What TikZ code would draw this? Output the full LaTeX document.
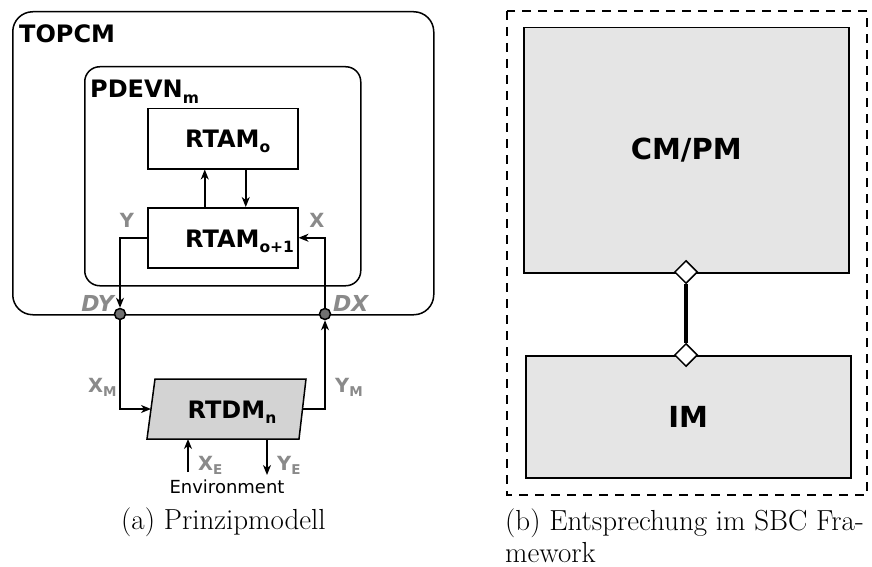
\documentclass[tikz,border=0pt]{standalone}
\usepackage{fontspec}
\newfontfamily\dv{DejaVu Sans}
\usetikzlibrary{arrows.meta,shapes.geometric}
\definecolor{lbl}{HTML}{8A8A8A}
\definecolor{dotc}{HTML}{707070}
\definecolor{rtfill}{HTML}{D3D3D3}
\definecolor{sbcfill}{HTML}{E5E5E5}
\newcommand{\sbx}[1]{\raisebox{-0.22em}{\fontsize{15.5}{15.5}\selectfont #1}}
\newcommand{\sbl}[1]{\raisebox{-0.22em}{\fontsize{13.5}{13.5}\selectfont #1}}
\tikzset{
  lw/.style={line width=1.5pt},
  boxn/.style={draw, lw, inner sep=0pt, anchor=north west},
  bt/.style={font=\dv\bfseries\fontsize{24}{27}\selectfont, inner sep=0pt},
  bigt/.style={font=\dv\bfseries\fontsize{29}{32}\selectfont, inner sep=0pt},
  gl/.style={text=lbl, font=\dv\bfseries\fontsize{19.5}{22}\selectfont, inner sep=0pt},
  gli/.style={text=lbl, font=\dv\bfseries\itshape\fontsize{22}{24}\selectfont, inner sep=0pt},
  arr/.style={lw, -{Stealth[length=10pt,width=8pt,inset=3pt]}},
  port/.style={circle, draw, lw, fill=dotc, minimum size=11pt, inner sep=0pt},
  captext/.style={font=\fontsize{29}{32}\selectfont, inner sep=0pt, anchor=base west, align=left},
  dia/.style={draw, lw, fill=white, minimum size=23pt, inner sep=0pt, shape=diamond},
}
\begin{document}
\begin{tikzpicture}[x=1pt,y=-1pt]
\useasboundingbox (0,0) rectangle (872,567);

% containers
\node[boxn, rounded corners=20pt, minimum width=421pt, minimum height=303pt] (top) at (12,11) {};
\node[bt, anchor=base west] (ttop) at (19,43) {TOPCM};
\node[boxn, rounded corners=15pt, minimum width=276pt, minimum height=219pt] (pdevn) at (84,66) {};
\node[bt, anchor=base west] (tpdevn) at (90,98) {PDEVN\sbx{m}};

% RTAM boxes
\node[boxn, minimum width=150pt, minimum height=60pt] (ro) at (147,108) {};
\node[bt, anchor=base west] (tro) at (185,147) {RTAM\sbx{o}};
\node[boxn, minimum width=150pt, minimum height=60pt] (ro1) at (147,207) {};
\node[bt, anchor=base west] (tro1) at (185,247) {RTAM\sbx{o+1}};

\draw[arr] ([xshift=-18pt]ro1.north) -- ([xshift=-18pt]ro.south);
\draw[arr] ([xshift=23pt]ro.south) -- ([xshift=23pt]ro1.north);

% ports
\node[port] (dy) at (120,314) {};
\node[port] (dx) at (325,314) {};
\node[gli, anchor=east] (ldy) at (114,303) {DY};
\node[gli, anchor=west] (ldx) at (333,303) {DX};
\node[gl] (ly) at (127,220) {Y};
\node[gl] (lx) at (317,220) {X};

\draw[arr] (ro1.west) -| (dy.north);
\draw[arr] (dx.north) |- (ro1.east);

% RTDM
\coordinate (rw) at (151,409);
\coordinate (re) at (302.5,409);
\coordinate (rb) at (223,439);
\draw[lw, fill=rtfill] (155,379) -- (306,379) -- (299,439) -- (147,439) -- cycle;
\node[bt] (rtdm) at (232,412) {RTDM\sbx{n}};

\draw[arr] (dy.south) |- (rw);
\draw[arr] (re) -| (dx.south);

\node[gl, anchor=base west] (lxm) at (88,392) {X\sbl{M}};
\node[gl, anchor=base west] (lym) at (335,392) {Y\sbl{M}};

\coordinate (xe0) at (188,472);
\coordinate (ye0) at (267,475);
\draw[arr] (xe0) -- (xe0 |- rb);
\draw[arr] (ye0 |- rb) -- (ye0);
\node[gl, anchor=base west] (lxe) at (198,470) {X\sbl{E}};
\node[gl, anchor=base west] (lye) at (277,470) {Y\sbl{E}};
\node[font=\dv\fontsize{18}{20}\selectfont, inner sep=0pt, anchor=base] (env) at (227,493) {Environment};

\node[captext] (capa) at (121,529) {(a) Prinzipmodell};

% right panel
\draw[lw, dash pattern=on 9pt off 7pt] (507,11) rectangle (867,495);
\node[boxn, fill=sbcfill, minimum width=325pt, minimum height=245pt] (cmpm) at (523,27) {};
\node[bigt] (tcm) at (cmpm.center) {CM/PM};
\node[boxn, fill=sbcfill, minimum width=325pt, minimum height=122pt] (im) at (525,355) {};
\node[bigt] (tim) at (im.center) {IM};
\node[dia] (d1) at (686,272) {};
\node[dia] (d2) at (686,355) {};
\draw[line width=4pt] (d1.south) -- (d2.north);

\node[captext] (capb) at (505,562) {(b) Entsprechung im SBC Fra-\\mework};
\end{tikzpicture}
\end{document}
